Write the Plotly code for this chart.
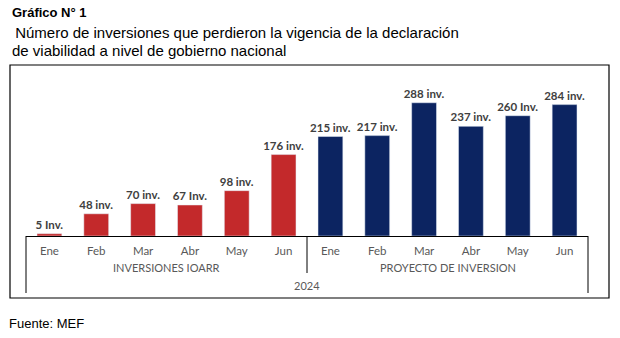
import plotly.graph_objects as go

# Datos
meses = ["Ene", "Feb", "Mar", "Abr", "May", "Jun"]
grupos = ["INVERSIONES IOARR", "PROYECTO DE INVERSION"]
anio = "2024"
valores_ioarr = [5, 48, 70, 67, 98, 176]
valores_pi = [215, 217, 288, 237, 260, 284]
etiquetas_ioarr = ["5 Inv.", "48 inv.", "70 inv.", "67 Inv.", "98 inv.", "176 inv."]
etiquetas_pi = ["215 inv.", "217 inv.", "288 inv.", "237 inv.", "260 Inv.", "284 inv."]

ROJO = "#C3292B"
AZUL = "#0C2461"
GRIS = "#595959"

W, H = 620, 338
ML, MR, MT, MB = 26, 32, 75, 102
PW, PH = W - ML - MR, H - MT - MB


def px(x):
    return (x - ML) / PW


def py(y):
    return (H - MB - y) / PH


x_ioarr = list(range(len(meses)))
x_pi = [len(meses) + i for i in range(len(meses))]

fuente_valores = dict(family="Lato", size=11.5, color="#404040", weight="bold")

fig = go.Figure()
fig.add_trace(go.Bar(
    x=x_ioarr, y=valores_ioarr, marker_color=ROJO, width=0.53,
    text=etiquetas_ioarr, textposition="outside", cliponaxis=False,
    constraintext="none", textfont=fuente_valores, hoverinfo="skip",
))
fig.add_trace(go.Bar(
    x=x_pi, y=valores_pi, marker_color=AZUL, width=0.53,
    text=etiquetas_pi, textposition="outside", cliponaxis=False,
    constraintext="none", textfont=fuente_valores, hoverinfo="skip",
))

shapes = [
    # marco exterior
    dict(type="rect", xref="paper", yref="paper",
         x0=px(10), x1=px(609), y0=py(298), y1=py(65),
         line=dict(color="black", width=1.2)),
    # divisiones del eje de categorías
    dict(type="line", xref="x domain", yref="y domain",
         x0=0, x1=0, y0=0, y1=py(293), line=dict(color="black", width=1)),
    dict(type="line", xref="x domain", yref="y domain",
         x0=0.5, x1=0.5, y0=0, y1=py(273), line=dict(color="black", width=1)),
    dict(type="line", xref="x domain", yref="y domain",
         x0=1, x1=1, y0=0, y1=py(293), line=dict(color="black", width=1)),
]

anots = [
    dict(text="<b>Gráfico N° 1</b>", x=px(10), y=py(12),
         font=dict(family="Liberation Sans", size=13, color="black")),
    dict(text=" Número de inversiones que perdieron la vigencia de la declaración", x=px(9), y=py(33),
         font=dict(family="Liberation Sans", size=15, color="black")),
    dict(text="de viabilidad a nivel de gobierno nacional", x=px(10), y=py(50),
         font=dict(family="Liberation Sans", size=15, color="black")),
    dict(text="Fuente: MEF", x=px(7), y=py(323),
         font=dict(family="Liberation Sans", size=13, color="black")),
]
for a in anots:
    a.update(xref="paper", yref="paper", xanchor="left", yanchor="middle",
             showarrow=False)

# etiquetas de grupo y año
for i, g in enumerate(grupos):
    anots.append(dict(text=g, xref="x domain", yref="paper", x=0.25 + 0.5 * i, y=py(267),
                      xanchor="center", yanchor="middle", showarrow=False,
                      font=dict(family="Lato", size=11, color=GRIS)))
anots.append(dict(text=anio, xref="x domain", yref="paper", x=0.5, y=py(285),
                  xanchor="center", yanchor="middle", showarrow=False,
                  font=dict(family="Lato", size=11, color=GRIS)))

fig.update_layout(
    width=W, height=H,
    margin=dict(l=ML, r=MR, t=MT, b=MB, autoexpand=False),
    paper_bgcolor="white", plot_bgcolor="white",
    showlegend=False, bargap=0.47,
    shapes=shapes, annotations=anots,
    xaxis=dict(range=[-0.5, 11.5], tickvals=x_ioarr + x_pi, ticktext=meses + meses,
               showline=True, linecolor="black", linewidth=1, ticks="",
               showgrid=False, zeroline=False, ticklabelstandoff=4,
               tickfont=dict(family="Lato", size=11.5, color=GRIS)),
    yaxis=dict(range=[0, 348], visible=False, showgrid=False, zeroline=False),
)

fig.write_html("out.html")
